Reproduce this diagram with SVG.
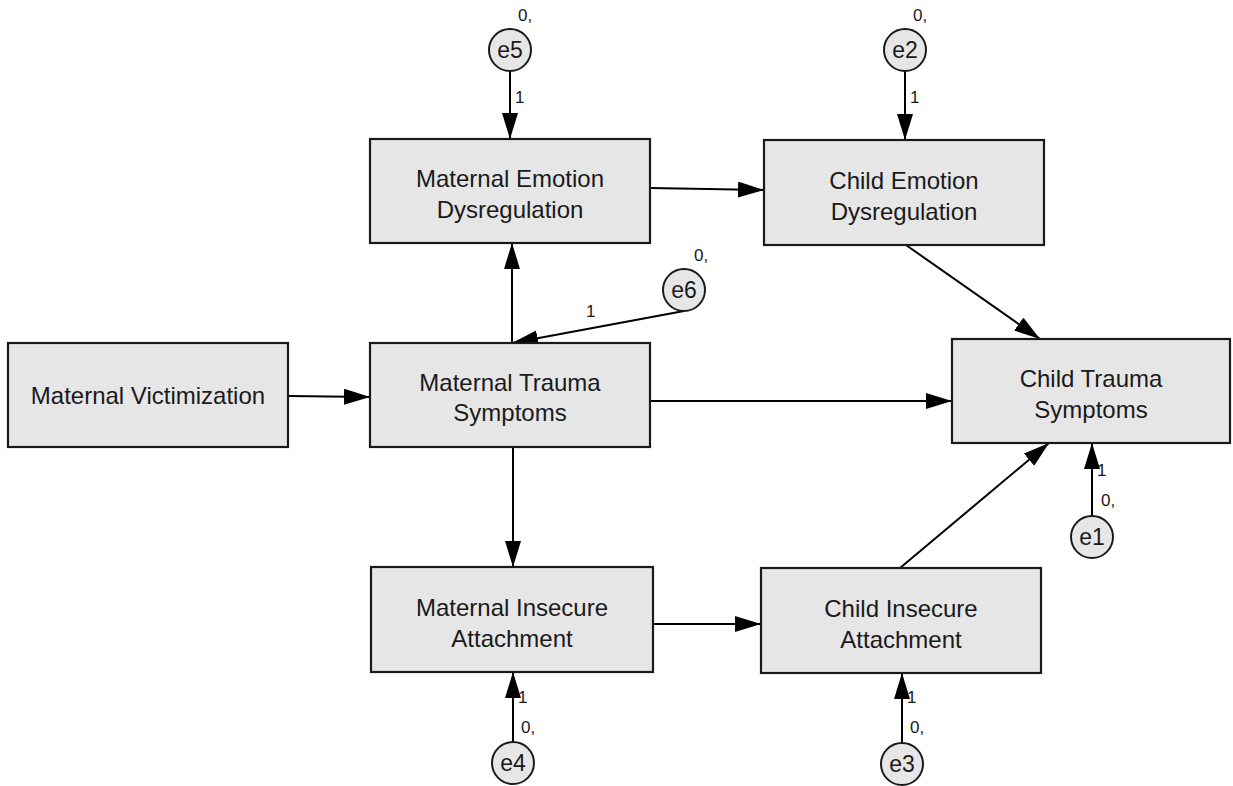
<svg xmlns="http://www.w3.org/2000/svg" width="1233" height="786" viewBox="0 0 1233 786">
<defs>
<marker id="arr" markerUnits="userSpaceOnUse" markerWidth="26" markerHeight="16" refX="26" refY="8" orient="auto">
<path d="M0,0 L26,8 L0,16 z" fill="#000"/>
</marker>
<style>
.box{fill:#e6e6e6;stroke:#1a1a1a;stroke-width:2.2}
.err{fill:#e6e6e6;stroke:#1a1a1a;stroke-width:2}
.t{font-family:"Liberation Sans",Arial,sans-serif;font-size:24px;fill:#1a1a1a;text-anchor:middle}
.e{font-family:"Liberation Sans",Arial,sans-serif;font-size:23px;fill:#1a1a1a;text-anchor:middle}
.s{font-family:"Liberation Sans",Arial,sans-serif;font-size:17px;fill:#1a1a1a}
.c{stroke:#000;stroke-width:2;fill:none;marker-end:url(#arr)}
</style>
</defs>
<rect width="1233" height="786" fill="#fff"/>
<g id="connectors">
<line class="c" x1="510" y1="71" x2="510" y2="139"/>
<line class="c" x1="905" y1="71" x2="905" y2="140"/>
<line class="c" x1="650" y1="188" x2="764" y2="190"/>
<line class="c" x1="512" y1="343" x2="512" y2="243"/>
<line class="c" x1="684" y1="311" x2="512" y2="343"/>
<line class="c" x1="288" y1="396" x2="370" y2="397"/>
<line class="c" x1="650" y1="401" x2="952" y2="401"/>
<line class="c" x1="906" y1="245" x2="1040" y2="339"/>
<line class="c" x1="513" y1="447" x2="513" y2="567"/>
<line class="c" x1="653" y1="624" x2="761" y2="624"/>
<line class="c" x1="900" y1="568" x2="1049" y2="443"/>
<line class="c" x1="1092" y1="516" x2="1092" y2="443"/>
<line class="c" x1="513" y1="742" x2="513" y2="672"/>
<line class="c" x1="902" y1="742" x2="902" y2="673"/>
<text class="s" x="515" y="103">1</text>
<text class="s" x="910" y="103">1</text>
<text class="s" x="586" y="317">1</text>
<text class="s" x="1097" y="476">1</text>
<text class="s" x="518" y="703">1</text>
<text class="s" x="907" y="703">1</text>
</g>
<g id="n_mv"><rect class="box" x="8" y="343" width="280" height="104"/><text class="t" x="148" y="404">Maternal Victimization</text></g>
<g id="n_mts"><rect class="box" x="370" y="343" width="280" height="104"/><text class="t" x="510" y="391">Maternal Trauma</text><text class="t" x="510" y="421">Symptoms</text></g>
<g id="n_med"><rect class="box" x="370" y="139" width="280" height="104"/><text class="t" x="510" y="187">Maternal Emotion</text><text class="t" x="510" y="218">Dysregulation</text></g>
<g id="n_ced"><rect class="box" x="764" y="140" width="280" height="105"/><text class="t" x="904" y="189">Child Emotion</text><text class="t" x="904" y="220">Dysregulation</text></g>
<g id="n_cts"><rect class="box" x="952" y="339" width="278" height="104"/><text class="t" x="1091" y="387">Child Trauma</text><text class="t" x="1091" y="418">Symptoms</text></g>
<g id="n_mia"><rect class="box" x="371" y="567" width="282" height="105"/><text class="t" x="512" y="616">Maternal Insecure</text><text class="t" x="512" y="647">Attachment</text></g>
<g id="n_cia"><rect class="box" x="761" y="568" width="280" height="105"/><text class="t" x="901" y="617">Child Insecure</text><text class="t" x="901" y="648">Attachment</text></g>
<g id="e5"><circle class="err" cx="510" cy="50" r="21"/><text class="e" x="510" y="58">e5</text><text class="s" x="518" y="21">0,</text></g>
<g id="e2"><circle class="err" cx="905" cy="50" r="21"/><text class="e" x="905" y="58">e2</text><text class="s" x="913" y="21">0,</text></g>
<g id="e6"><circle class="err" cx="684" cy="290" r="21"/><text class="e" x="684" y="298">e6</text><text class="s" x="694" y="261">0,</text></g>
<g id="e1"><circle class="err" cx="1092" cy="537" r="21"/><text class="e" x="1092" y="545">e1</text><text class="s" x="1101" y="506">0,</text></g>
<g id="e4"><circle class="err" cx="513" cy="763" r="21"/><text class="e" x="513" y="771">e4</text><text class="s" x="521" y="733">0,</text></g>
<g id="e3"><circle class="err" cx="902" cy="764" r="21"/><text class="e" x="902" y="772">e3</text><text class="s" x="910" y="733">0,</text></g>
</svg>
